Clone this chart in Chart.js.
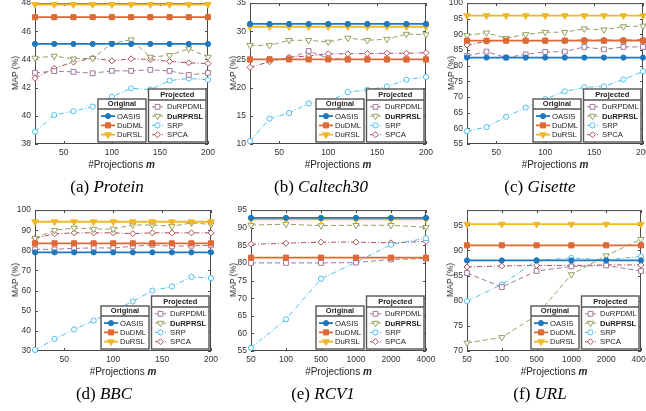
<!DOCTYPE html>
<html>
<head>
<meta charset="utf-8">
<script src="https://cdn.jsdelivr.net/npm/chart.js@4.4.0/dist/chart.umd.min.js"></script>
<style>
  html,body{margin:0;padding:0;background:#fff;}
  body{width:646px;height:411px;overflow:hidden;position:relative;font-family:"Liberation Sans",Arial,sans-serif;}
  canvas{position:absolute;}
  .xt{position:absolute;font-size:10px;color:#262626;white-space:nowrap;transform:translate(-50%,-50%);}
  .yt{position:absolute;font-size:8.6px;color:#262626;white-space:nowrap;transform:translate(-50%,-50%) rotate(-90deg);}
  .cap{position:absolute;font-family:"Liberation Serif","Times New Roman",serif;font-size:17px;color:#000;white-space:nowrap;transform:translate(-50%,-50%);}
</style>
</head>
<body>
<script>
// ---------- shared categories / ticks ----------
const xProj = [20,40,60,80,100,120,140,160,180,200];
const xProjTicks = [50,100,150,200];
const xCat = ['50','100','500','1000','2000','4000'];
const seriesNames = ['OASIS','DuDML','DuRSL','DuRPDML','DuRPRSL','SRP','SPCA'];

// ---------- (a) Protein ----------
const proteinYTicks = [38,40,42,44,46,48];
const proteinOASIS   = [45.1,45.1,45.1,45.1,45.1,45.1,45.1,45.1,45.1,45.1];
const proteinDuDML   = [47.0,47.0,47.0,47.0,47.0,47.0,47.0,47.0,47.0,47.0];
const proteinDuRSL   = [47.9,47.9,47.9,47.9,47.9,47.9,47.9,47.9,47.9,47.9];
const proteinDuRPDML = [43.05,43.17,43.12,43.02,43.19,43.19,43.26,43.19,42.9,43.05];
const proteinDuRPRSL = [44.1,44.24,44.05,44.08,45.14,45.4,44.17,44.29,44.76,44.17];
const proteinSRP     = [38.88,40.05,40.33,40.65,41.35,41.95,41.86,42.5,42.65,42.56];
const proteinSPCA    = [42.67,43.38,43.81,44.1,43.9,44.05,44.0,43.86,43.76,43.71];

// ---------- (b) Caltech30 ----------
const caltechYTicks = [10,15,20,25,30,35];
const caltechOASIS   = [31.3,31.3,31.3,31.3,31.3,31.3,31.3,31.3,31.3,31.3];
const caltechDuDML   = [25.0,25.0,25.0,25.0,25.0,25.0,25.0,25.0,25.0,25.0];
const caltechDuRSL   = [30.8,30.8,30.8,30.8,30.8,30.8,30.8,30.8,30.8,30.8];
const caltechDuRPDML = [25.0,25.05,25.2,26.5,25.2,25.0,25.0,25.0,25.0,25.0];
const caltechDuRPRSL = [27.5,27.5,28.4,28.4,28.1,28.8,28.4,28.6,29.5,29.4];
const caltechSRP     = [10.5,14.5,15.5,17.2,17.5,19.2,19.6,20.2,21.4,21.9];
const caltechSPCA    = [23.6,24.6,25.4,25.6,26.0,26.0,26.05,26.1,26.1,26.2];

// ---------- (c) Gisette ----------
const gisetteYTicks = [55,60,65,70,75,80,85,90,95,100];
const gisetteOASIS   = [82.6,82.6,82.6,82.6,82.6,82.6,82.6,82.6,82.6,82.6];
const gisetteDuDML   = [88.0,88.0,88.0,88.0,88.0,88.0,88.0,88.0,88.0,88.0];
const gisetteDuRSL   = [96.0,96.0,96.0,96.0,96.0,96.0,96.0,96.0,96.0,96.0];
const gisetteDuRPDML = [83.1,84.5,82.6,83.6,84.4,84.5,86.0,85.2,86.0,86.0];
const gisetteDuRPRSL = [89.7,90.5,88.8,90.0,90.7,90.7,91.8,91.5,92.5,92.7];
const gisetteSRP     = [59.1,60.4,63.7,66.6,69.3,71.8,73.1,73.4,75.6,78.2];
const gisetteSPCA    = [86.6,87.8,88.1,88.0,88.0,88.1,88.2,88.2,88.2,88.3];

// ---------- (d) BBC ----------
const bbcYTicks = [30,40,50,60,70,80,90,100];
const bbcOASIS   = [79.0,79.0,79.0,79.0,79.0,79.0,79.0,79.0,79.0,79.0];
const bbcDuDML   = [83.5,83.5,83.5,83.5,83.5,83.5,83.5,83.5,83.5,83.5];
const bbcDuRSL   = [94.2,94.2,94.2,94.2,94.2,94.2,94.2,94.2,94.2,94.2];
const bbcDuRPDML = [80.5,80.5,81.0,81.2,81.2,82.0,82.8,82.0,82.3,82.5];
const bbcDuRPRSL = [86.0,90.0,91.1,90.6,90.6,92.6,92.6,92.0,93.6,92.9];
const bbcSRP     = [30.5,36.0,40.7,45.1,50.0,54.6,60.0,62.0,66.8,66.2];
const bbcSPCA    = [86.0,88.2,88.7,88.7,88.7,88.3,88.7,88.7,88.7,88.7];

// ---------- (e) RCV1 ----------
const rcv1YTicks = [55,60,65,70,75,80,85,90,95];
const rcv1OASIS   = [92.8,92.8,92.8,92.8,92.8,92.8];
const rcv1DuDML   = [81.5,81.5,81.5,81.5,81.5,81.5];
const rcv1DuRSL   = [92.4,92.4,92.4,92.4,92.4,92.4];
const rcv1DuRPDML = [80.0,80.0,80.0,80.1,81.0,81.2];
const rcv1DuRPRSL = [90.75,91.0,90.6,90.7,90.7,90.1];
const rcv1SRP     = [55.9,64.0,75.5,80.2,85.2,87.0];
const rcv1SPCA    = [85.3,85.6,85.9,85.9,85.7,86.1];

// ---------- (f) URL ----------
const urlYTicks = [70,75,80,85,90,95];
const urlOASIS   = [88.0,88.0,88.0,88.0,88.0,88.0];
const urlDuDML   = [91.0,91.0,91.0,91.0,91.0,91.0];
const urlDuRSL   = [95.2,95.2,95.2,95.2,95.2,95.2];
const urlDuRPDML = [85.5,82.7,85.9,86.8,87.0,85.9];
const urlDuRPRSL = [71.6,72.7,77.1,85.2,88.95,92.2];
const urlSRP     = [79.9,83.2,88.0,88.5,88.1,88.8];
const urlSPCA    = [86.7,86.9,87.0,87.0,87.1,87.1];

// ---------- styles ----------
const STY = [
  {c:'#1f78bd', fill:'#1f78bd', ps:'circle',   r:2.6, rot:0,   w:1.8, dash:[]},
  {c:'#DD6a35', fill:'#DD6a35', ps:'rect',     r:3.6, rot:0,   w:1.8, dash:[]},
  {c:'#F0B828', fill:'#F0B828', ps:'triangle', r:3.8, rot:180, w:1.8, dash:[]},
  {c:'#A07899', fill:'#ffffff', ps:'rect',     r:3.4, rot:0,   w:1,   dash:[5,3]},
  {c:'#8FA25E', fill:'#ffffff', ps:'triangle', r:3.6, rot:180, w:1,   dash:[5,3]},
  {c:'#4DBEEE', fill:'#ffffff', ps:'circle',   r:2.6, rot:0,   w:1,   dash:[5,2,1,2]},
  {c:'#AC5058', fill:'#ffffff', ps:'rectRot',  r:3.0, rot:0,   w:1,   dash:[5,2,1,2]}
];

Chart.defaults.font.family = '"Liberation Sans", Arial, sans-serif';
Chart.defaults.color = '#333';

const boxPlugin = {
  id:'boxTicks',
  beforeDatasetsDraw(chart){
    const {ctx, chartArea:a, scales} = chart;
    const x = scales.x, y = scales.y;
    ctx.save();
    ctx.strokeStyle = '#4a4a4a'; ctx.lineWidth = 1;
    ctx.strokeRect(a.left+0.5, a.top+0.5, a.right-a.left-1, a.bottom-a.top-1);
    ctx.beginPath();
    x.ticks.forEach((t,i)=>{
      const px = Math.round(x.getPixelForTick(i))+0.5;
      ctx.moveTo(px, a.bottom); ctx.lineTo(px, a.bottom-3);
      ctx.moveTo(px, a.top); ctx.lineTo(px, a.top+3);
    });
    y.ticks.forEach((t,i)=>{
      const py = Math.round(y.getPixelForTick(i))+0.5;
      ctx.moveTo(a.left, py); ctx.lineTo(a.left+3, py);
      ctx.moveTo(a.right, py); ctx.lineTo(a.right-3, py);
    });
    ctx.stroke();
    ctx.restore();
  },
  afterDatasetsDraw(chart){
    const {ctx, chartArea:a} = chart;
    const R = a.right, B = a.bottom;
    const ds = chart.data.datasets;
    ctx.save();
    function box(l,t,r,b,sep,title,ty){
      ctx.fillStyle='#fff';
      ctx.fillRect(l,t,r-l,b-t);
      ctx.strokeStyle='#555'; ctx.lineWidth=1.4; ctx.setLineDash([]);
      ctx.strokeRect(l,t,r-l,b-t);
      ctx.beginPath(); ctx.moveTo(l,sep); ctx.lineTo(r,sep); ctx.stroke();
      ctx.fillStyle='#222'; ctx.font='bold 7.5px "Liberation Sans", Arial, sans-serif';
      ctx.textAlign='center'; ctx.textBaseline='middle';
      ctx.fillText(title,(l+r)/2,ty);
    }
    function entry(i,x0,x1,y,tx){
      const d = ds[i];
      ctx.strokeStyle=d.borderColor; ctx.lineWidth=d.borderWidth;
      ctx.setLineDash(d.borderDash||[]);
      ctx.beginPath(); ctx.moveTo(x0,y); ctx.lineTo(x1,y); ctx.stroke();
      ctx.setLineDash([]);
      ctx.fillStyle=d.pointBackgroundColor; ctx.strokeStyle=d.borderColor; ctx.lineWidth=1;
      Chart.helpers.drawPoint(ctx,{pointStyle:d.pointStyle,radius:d.pointRadius,rotation:d.pointRotation,borderWidth:1},(x0+x1)/2,y);
      ctx.fillStyle='#222';
      ctx.font=(i===4?'bold ':'')+'7.7px "Liberation Sans", Arial, sans-serif';
      ctx.textAlign='left'; ctx.textBaseline='middle';
      ctx.fillText(d.label,tx,y+0.5);
    }
    box(R-59.5,B-55,R-2,B-2,B-44,'Projected',B-49.5);
    for(let k=0;k<4;k++) entry(3+k,R-56,R-45,B-37.2+k*9.3,R-41);
    box(R-110,B-45,R-62,B-2,B-35,'Original',B-40);
    for(let k=0;k<3;k++) entry(k,R-107,R-93,B-27.9+k*9.3,R-91);
    ctx.restore();
  }
};

function addText(cls, html, x, y){
  const d = document.createElement('div');
  d.className = cls; d.innerHTML = html;
  d.style.left = x+'px'; d.style.top = y+'px';
  document.body.appendChild(d);
}

function makeChart(p){
  const PADL = 40, PADT = 8, PADR = 14, PADB = 16;
  const cv = document.createElement('canvas');
  const W = (p.r-p.l)+PADL+PADR, H = (p.b-p.t)+PADT+PADB;
  cv.width = W; cv.height = H;
  cv.style.width = W+'px'; cv.style.height = H+'px';
  cv.style.left = (p.l-PADL)+'px'; cv.style.top = (p.t-PADT)+'px';
  document.body.appendChild(cv);
  const datasets = p.series.map((vals,i)=>({
    label: seriesNames[i], data: vals,
    borderColor: STY[i].c, backgroundColor: STY[i].c,
    borderWidth: STY[i].w, borderDash: STY[i].dash,
    pointStyle: STY[i].ps, pointRadius: STY[i].r, pointRotation: STY[i].rot,
    pointBackgroundColor: STY[i].fill, pointBorderColor: STY[i].c, pointBorderWidth: 1,
    fill:false, tension:0, clip:false
  }));
  const xScale = p.cat ? {
      type:'category', offset:false,
      grid:{display:false, drawTicks:false}, border:{display:false},
      ticks:{font:{size:8.5}, padding:4, maxRotation:0, autoSkip:false, color:'#333'},
      afterFit(s){ s.height = PADB; }
    } : {
      type:'linear', min:20, max:200,
      grid:{display:false, drawTicks:false}, border:{display:false},
      ticks:{font:{size:8.5}, padding:4, maxRotation:0, color:'#333'},
      afterBuildTicks(s){ s.ticks = xProjTicks.map(v=>({value:v})); },
      afterFit(s){ s.height = PADB; }
    };
  new Chart(cv, {
    type:'line',
    data:{labels: p.labels, datasets},
    options:{
      responsive:false, animation:false, devicePixelRatio:1,
      layout:{padding:{top:PADT,right:PADR,left:0,bottom:0}},
      plugins:{legend:{display:false}, tooltip:{enabled:false}},
      scales:{
        x: xScale,
        y:{
          min:p.ymin, max:p.ymax,
          grid:{display:false, drawTicks:false}, border:{display:false},
          ticks:{font:{size:8.5}, padding:4, color:'#333'},
          afterBuildTicks(s){ s.ticks = p.yticks.map(v=>({value:v})); },
          afterFit(s){ s.width = PADL; }
        }
      }
    },
    plugins:[boxPlugin]
  });
  addText('yt','MAP (%)', p.ytx, (p.t+p.b)/2);
  addText('xt','#Projections <b><i>m</i></b>', (p.l+p.r)/2, p.b+20);
  addText('cap', p.cap, p.capx, p.b+43);
}

makeChart({l:35,t:2,r:208,b:144, labels:xProj, cat:false, ymin:38, ymax:48, yticks:proteinYTicks,
  series:[proteinOASIS,proteinDuDML,proteinDuRSL,proteinDuRPDML,proteinDuRPRSL,proteinSRP,proteinSPCA],
  ytx:15, cap:'(a) <i>Protein</i>', capx:107});
makeChart({l:250,t:2,r:426,b:144, labels:xProj, cat:false, ymin:10, ymax:35, yticks:caltechYTicks,
  series:[caltechOASIS,caltechDuDML,caltechDuRSL,caltechDuRPDML,caltechDuRPRSL,caltechSRP,caltechSPCA],
  ytx:233, cap:'(b) <i>Caltech30</i>', capx:321});
makeChart({l:467,t:2,r:643,b:144, labels:xProj, cat:false, ymin:55, ymax:100, yticks:gisetteYTicks,
  series:[gisetteOASIS,gisetteDuDML,gisetteDuRSL,gisetteDuRPDML,gisetteDuRPRSL,gisetteSRP,gisetteSPCA],
  ytx:451, cap:'(c) <i>Gisette</i>', capx:540});
makeChart({l:35,t:209,r:211,b:351, labels:xProj, cat:false, ymin:30, ymax:100, yticks:bbcYTicks,
  series:[bbcOASIS,bbcDuDML,bbcDuRSL,bbcDuRPDML,bbcDuRPRSL,bbcSRP,bbcSPCA],
  ytx:15, cap:'(d) <i>BBC</i>', capx:104});
makeChart({l:251,t:209,r:426,b:351, labels:xCat, cat:true, ymin:55, ymax:95, yticks:rcv1YTicks,
  series:[rcv1OASIS,rcv1DuDML,rcv1DuRSL,rcv1DuRPDML,rcv1DuRPRSL,rcv1SRP,rcv1SPCA],
  ytx:233, cap:'(e) <i>RCV1</i>', capx:323});
makeChart({l:467,t:209,r:641,b:351, labels:xCat, cat:true, ymin:70, ymax:98, yticks:urlYTicks,
  series:[urlOASIS,urlDuDML,urlDuRSL,urlDuRPDML,urlDuRPRSL,urlSRP,urlSPCA],
  ytx:450, cap:'(f) <i>URL</i>', capx:540});
</script>
</body>
</html>
